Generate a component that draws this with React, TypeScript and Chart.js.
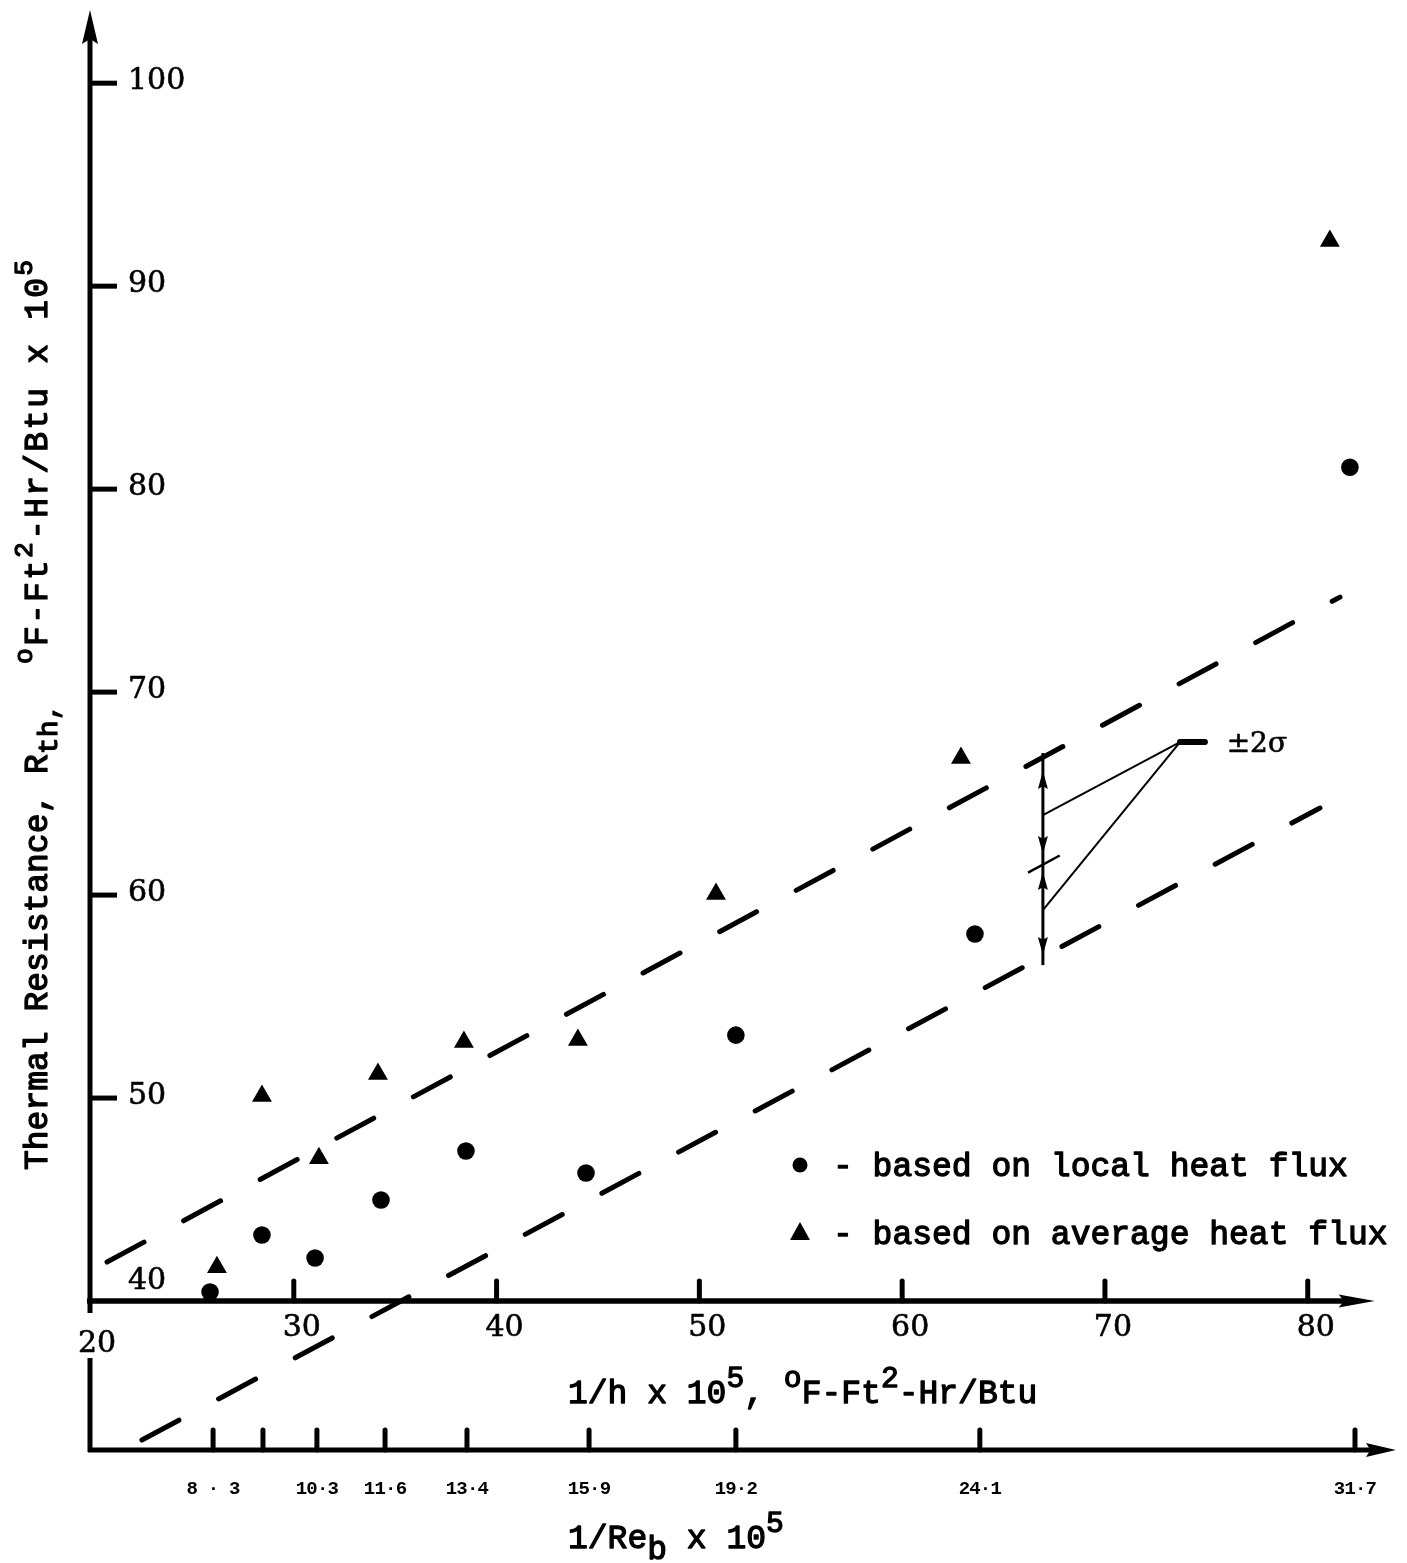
import React, { useEffect, useRef } from "react";
import { Chart, registerables } from "chart.js";

Chart.register(...registerables);

// ---------------- data ----------------
// 1/h x 1e5 (x) and thermal resistance R_th x 1e5 (y)
const localFluxX = [25.87, 28.43, 31.05, 34.3, 38.49, 44.41, 51.8, 63.59, 82.08];
const localFluxY = [40.44, 43.25, 42.12, 44.98, 47.39, 46.31, 53.1, 58.08, 81.08];
const averageFluxX = [26.21, 28.43, 31.24, 34.15, 38.39, 44.01, 50.82, 62.9, 81.09];
const averageFluxY = [41.67, 50.1, 47.04, 51.18, 52.76, 52.86, 60.05, 66.75, 92.22];

// dashed +-2 sigma band lines (end points)
const upperBandX = [20.79, 81.59];
const upperBandY = [41.92, 74.68];
const lowerBandX = [22.51, 80.6];
const lowerBandY = [33.15, 64.29];

// axes ticks
const yTickValues = [40, 50, 60, 70, 80, 90, 100];
const xTickValues = [30, 40, 50, 60, 70, 80];
// secondary axis: 1/Re_b x 1e5, placed at the 1/h positions
const reTickX = [26.02, 28.48, 31.14, 34.5, 38.54, 44.56, 51.8, 63.83, 82.33];
const reTickLabels = ["8 · 3", "", "10·3", "11·6", "13·4", "15·9", "19·2", "24·1", "31·7"];

// +-2 sigma annotation (data units)
const sigmaBarX = 66.94;
const sigmaBarY = [67.0, 61.53, 56.55]; // top, middle, bottom
const sigmaLeaderFromY = [63.94, 59.26];
const sigmaCornerX = 73.7;
const sigmaCornerY = 67.54;
const sigmaBarEndX = 74.93;
const sigmaLabelX = 76.0;

// ---------------- layout / style ----------------
const W = 1407;
const H = 1563;
const X_MIN = 20;
const X_MAX = 84.5;
const Y_MIN = 30;
const Y_MAX = 104;
const Y_AXIS_TIP = 103.6;
const X_AXIS_TIP = 83.3;
const RE_AXIS_Y = 32.66;
const RE_AXIS_TIP = 84.35;

const MONO = '"Liberation Mono", "Courier New", monospace';
const SERIF = '"DejaVu Serif", "Liberation Serif", serif';
const INK = "#000";

type Seg = { t: string; s?: number; dy?: number; ls?: number };

// typewriter-like text: regular face with a thin outline stroke for weight
function drawRich(
  ctx: CanvasRenderingContext2D,
  segs: Seg[],
  x: number,
  y: number,
  size: number,
  family: string,
  stroke = 1.3,
  spacing = 0
) {
  let cx = x;
  for (const sg of segs) {
    const k = sg.s ?? 1;
    ctx.font = `normal ${(size * k).toFixed(1)}px ${family}`;
    (ctx as any).letterSpacing = `${sg.ls ?? spacing}px`;
    const yy = y + (sg.dy ?? 0) * size;
    ctx.fillText(sg.t, cx, yy);
    if (stroke > 0) {
      ctx.lineWidth = stroke;
      ctx.lineJoin = "round";
      ctx.strokeText(sg.t, cx, yy);
    }
    cx += ctx.measureText(sg.t).width;
  }
  (ctx as any).letterSpacing = "0px";
  return cx - x;
}

function seg(ctx: CanvasRenderingContext2D, x1: number, y1: number, x2: number, y2: number, w: number, cap: CanvasLineCap = "butt") {
  ctx.beginPath();
  ctx.lineWidth = w;
  ctx.lineCap = cap;
  ctx.moveTo(x1, y1);
  ctx.lineTo(x2, y2);
  ctx.stroke();
}

function arrowHead(ctx: CanvasRenderingContext2D, tx: number, ty: number, dx: number, dy: number, len: number, half: number) {
  const n = Math.hypot(dx, dy);
  const ux = dx / n;
  const uy = dy / n;
  const bx = tx - ux * len;
  const by = ty - uy * len;
  ctx.beginPath();
  ctx.moveTo(tx, ty);
  ctx.lineTo(bx - uy * half, by + ux * half);
  ctx.lineTo(bx + ux * len * 0.15, by + uy * len * 0.15);
  ctx.lineTo(bx + uy * half, by - ux * half);
  ctx.closePath();
  ctx.fill();
}

const paperPlugin = {
  id: "paperAxes",
  afterDraw(chart: any) {
    const ctx: CanvasRenderingContext2D = chart.ctx;
    const xs = chart.scales.x;
    const ys = chart.scales.y;
    const X = (v: number) => xs.getPixelForValue(v);
    const Y = (v: number) => ys.getPixelForValue(v);
    ctx.save();
    ctx.fillStyle = INK;
    ctx.strokeStyle = INK;

    const x0 = X(20) - 1;
    const y40 = Y(40);
    const yRe = Y(RE_AXIS_Y);

    // ---- vertical axis with arrow ----
    const yTip = Y(Y_AXIS_TIP);
    seg(ctx, x0, yTip + 25, x0, y40 + 12, 5);
    arrowHead(ctx, x0, yTip, 0, -1, 34, 8);

    // y ticks + labels (labels right of the axis)
    ctx.textAlign = "left";
    ctx.textBaseline = "alphabetic";
    for (const v of yTickValues) {
      const py = Y(v);
      if (v !== 40) seg(ctx, x0, py, x0 + 27, py, 5);
      drawRich(ctx, [{ t: String(v) }], x0 + 38, v === 40 ? py - 12 : py + 6, 30, SERIF, 0.6);
    }

    // ---- main horizontal axis (1/h) ----
    const xTip = X(X_AXIS_TIP);
    seg(ctx, x0 - 3, y40, xTip - 20, y40, 5.5);
    arrowHead(ctx, xTip, y40, 1, 0, 36, 6.5);
    ctx.textAlign = "center";
    for (const v of xTickValues) {
      const px = X(v);
      seg(ctx, px, y40, px, y40 - 20, 5, "round");
      drawRich(ctx, [{ t: String(v) }], px + 8, y40 + 35, 30, SERIF, 0.6);
    }
    drawRich(ctx, [{ t: "20" }], x0 + 7, y40 + 51, 30, SERIF, 0.6);

    // ---- secondary horizontal axis (1/Re_b) ----
    const reTip = X(RE_AXIS_TIP);
    seg(ctx, x0, yRe - 92, x0, yRe + 2, 5);
    seg(ctx, x0 - 2, yRe, reTip - 20, yRe, 5);
    arrowHead(ctx, reTip, yRe, 1, 0, 30, 7);
    reTickX.forEach((v, i) => {
      const px = X(v);
      seg(ctx, px, yRe, px, yRe - 20, 5, "round");
      const lab = reTickLabels[i];
      if (lab) {
        ctx.textAlign = "center";
        ctx.font = `bold 19px ${MONO}`;
        (ctx as any).letterSpacing = "-0.8px";
        ctx.fillText(lab, px, yRe + 44);
        (ctx as any).letterSpacing = "0px";
      }
    });

    // ---- axis titles ----
    ctx.textAlign = "left";
    const F = 33;
    drawRich(
      ctx,
      [
        { t: "1/h x 10" },
        { t: "5", s: 0.9, dy: -0.5 },
        { t: ", " },
        { t: "o", s: 0.9, dy: -0.5 },
        { t: "F-Ft" },
        { t: "2", s: 0.9, dy: -0.5 },
        { t: "-Hr/Btu" },
      ],
      568,
      y40 + 102,
      F,
      MONO
    );
    drawRich(
      ctx,
      [
        { t: "1/Re" },
        { t: "b", s: 1, dy: 0.32 },
        { t: " x 10" },
        { t: "5", s: 0.9, dy: -0.5 },
      ],
      568,
      yRe + 98,
      F,
      MONO
    );

    // rotated y title
    ctx.save();
    ctx.translate(47, 1170);
    ctx.rotate(-Math.PI / 2);
    drawRich(
      ctx,
      [
        { t: "Thermal Resistance, R" },
        { t: "th,", s: 0.85, dy: 0.3 },
        { t: "  " },
        { t: "o", s: 0.8, dy: -0.45, ls: 2.2 },
        { t: "F-Ft", ls: 2.2 },
        { t: "2", s: 0.8, dy: -0.45, ls: 2.2 },
        { t: "-Hr/Btu x 10", ls: 2.2 },
        { t: "5", s: 0.8, dy: -0.45 },
      ],
      0,
      0,
      F,
      MONO
    );
    ctx.restore();

    // ---- legend ----
    const lx = 800;
    const r1 = 1165;
    const r2 = 1233;
    ctx.beginPath();
    ctx.arc(lx, r1, 7.5, 0, Math.PI * 2);
    ctx.fill();
    ctx.beginPath();
    ctx.moveTo(lx, r2 - 11);
    ctx.lineTo(lx + 10, r2 + 7);
    ctx.lineTo(lx - 10, r2 + 7);
    ctx.closePath();
    ctx.fill();
    ctx.textAlign = "left";
    drawRich(ctx, [{ t: "- based on local heat flux" }], 833, r1 + 11, F, MONO);
    drawRich(ctx, [{ t: "- based on average heat flux" }], 833, r2 + 11, F, MONO);

    // ---- +-2 sigma annotation ----
    const bx = X(sigmaBarX);
    const yt = Y(sigmaBarY[0]);
    const ym = Y(sigmaBarY[1]);
    const yb = Y(sigmaBarY[2]);
    seg(ctx, bx, yt, bx, yb, 3);
    arrowHead(ctx, bx, yt + 18, 0, -1, 18, 5);
    arrowHead(ctx, bx, ym - 10, 0, 1, 18, 5);
    arrowHead(ctx, bx, ym + 8, 0, -1, 18, 5);
    arrowHead(ctx, bx, yb - 10, 0, 1, 18, 5);
    // slanted mid tick following the band slope
    const sdx = X(upperBandX[1]) - X(upperBandX[0]);
    const sdy = Y(upperBandY[1]) - Y(upperBandY[0]);
    const sn = Math.hypot(sdx, sdy);
    seg(ctx, bx + 1 - (sdx / sn) * 18, ym - (sdy / sn) * 18, bx + 1 + (sdx / sn) * 18, ym + (sdy / sn) * 18, 2.5);
    // leaders
    const cx = X(sigmaCornerX);
    const cy = Y(sigmaCornerY);
    for (const v of sigmaLeaderFromY) seg(ctx, bx, Y(v), cx, cy, 2);
    seg(ctx, cx, cy, X(sigmaBarEndX), cy, 6, "round");
    ctx.textAlign = "left";
    drawRich(ctx, [{ t: "±2σ" }], X(sigmaLabelX), cy + 10, 28, SERIF, 0.6);

    ctx.restore();
  },
};

export default function App() {
  const ref = useRef<HTMLCanvasElement | null>(null);

  useEffect(() => {
    if (!ref.current) return;
    const pts = (xs: number[], ys: number[]) => xs.map((x, i) => ({ x, y: ys[i] }));
    const band = (label: string, xs: number[], ys: number[]) => ({
      label,
      data: pts(xs, ys),
      showLine: true,
      borderColor: INK,
      borderWidth: 5,
      borderDash: [42, 45],
      borderCapStyle: "round" as const,
      pointRadius: 0,
      pointHoverRadius: 0,
      fill: false,
      tension: 0,
      clip: false as const,
    });
    const chart = new Chart(ref.current, {
      type: "scatter",
      data: {
        datasets: [
          band("upper band", upperBandX, upperBandY),
          band("lower band", lowerBandX, lowerBandY),
          {
            label: "based on local heat flux",
            data: pts(localFluxX, localFluxY),
            pointStyle: "circle",
            pointRadius: 8.8,
            backgroundColor: INK,
            borderColor: INK,
            borderWidth: 0,
            clip: false as const,
          },
          {
            label: "based on average heat flux",
            data: pts(averageFluxX, averageFluxY),
            pointStyle: "triangle",
            pointRadius: 11.5,
            backgroundColor: INK,
            borderColor: INK,
            borderWidth: 0,
            clip: false as const,
          },
        ],
      },
      options: {
        responsive: false,
        animation: false,
        events: [],
        layout: { autoPadding: false, padding: { left: 91, right: 8, top: 2, bottom: 59 } },
        scales: {
          x: { type: "linear", min: X_MIN, max: X_MAX, display: false },
          y: { type: "linear", min: Y_MIN, max: Y_MAX, display: false },
        },
        plugins: { legend: { display: false }, tooltip: { enabled: false } },
      },
      plugins: [paperPlugin],
    });
    return () => chart.destroy();
  }, []);

  return (
    <div style={{ position: "absolute", left: 0, top: 0, width: W, height: H, background: "#fff" }}>
      <canvas ref={ref} width={W} height={H} style={{ display: "block" }} />
    </div>
  );
}
